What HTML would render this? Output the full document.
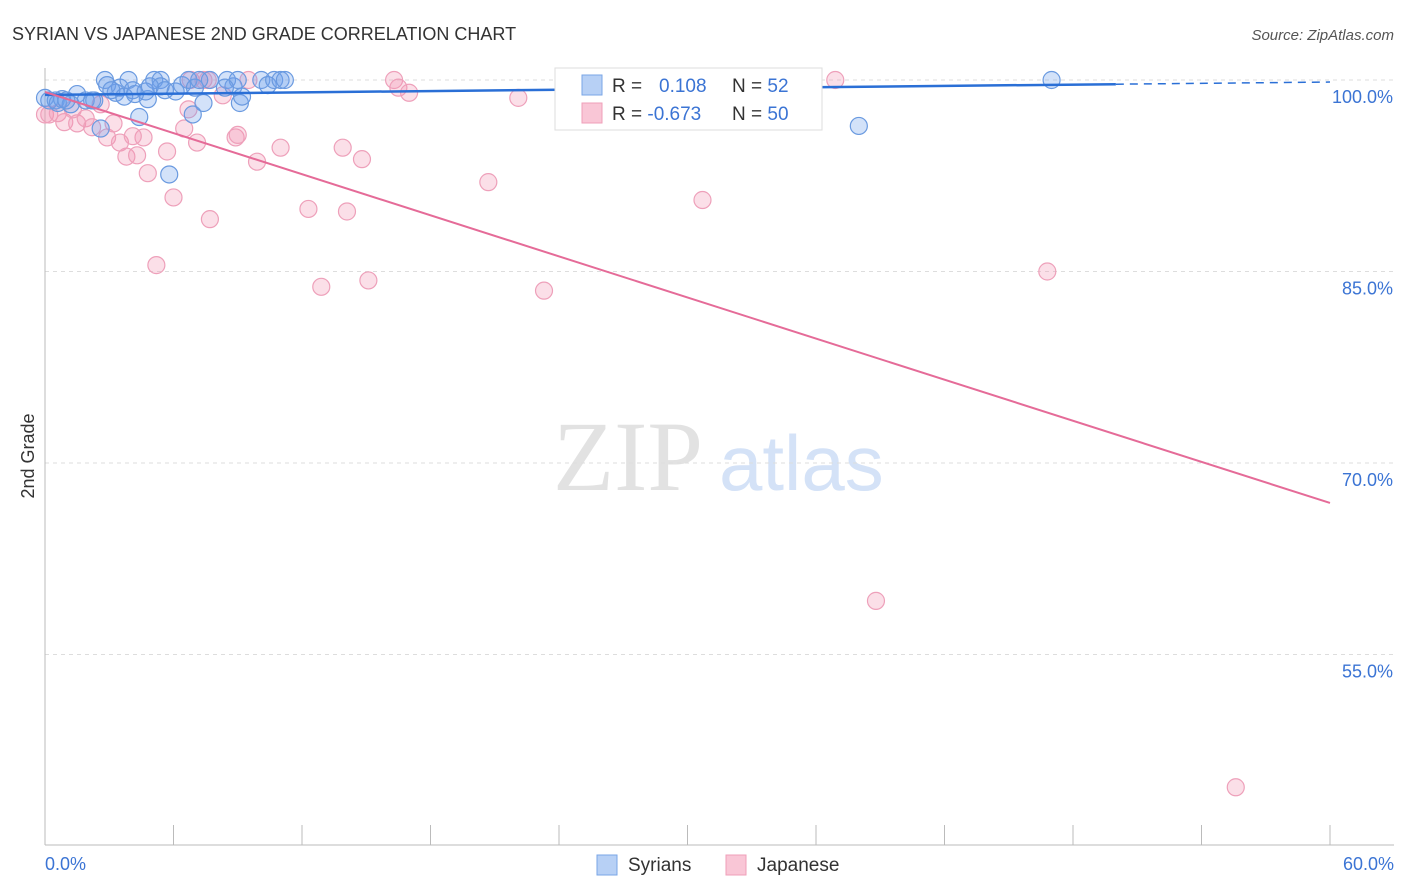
<!DOCTYPE html>
<html><head><meta charset="utf-8"><style>
body{margin:0;background:#fff;font-family:"Liberation Sans",sans-serif}
svg{display:block}
</style></head><body>
<svg width="1406" height="892">
<text x="12" y="40" font-size="18" fill="#333">SYRIAN VS JAPANESE 2ND GRADE CORRELATION CHART</text>
<text x="1394" y="40" font-size="15" fill="#555" text-anchor="end" font-style="italic">Source: ZipAtlas.com</text>
<text x="553" y="490" font-size="100" fill="#e2e2e2" font-family="Liberation Serif">ZIP</text>
<text x="719" y="490" font-size="78" fill="#d4e2f7">atlas</text>
<g id="grid"></g>
<g id="axes"></g>
<g id="pts"></g>
<g id="lines"></g>
<text x="34" y="456" font-size="18" fill="#333" text-anchor="middle" transform="rotate(-90 34 456)">2nd Grade</text>
<text x="45" y="870" font-size="18" fill="#3b74d4">0.0%</text>
<text x="1394" y="870" font-size="18" fill="#3b74d4" text-anchor="end">60.0%</text>
<g>
<rect x="555" y="68" width="267" height="62" fill="#fff" stroke="#ddd"/>
<rect x="582" y="75" width="20" height="20" fill="#b7d0f5" stroke="#7aa6e6"/>
<rect x="582" y="103" width="20" height="20" fill="#f9c6d6" stroke="#ef9fb8"/>
<text x="612" y="92" font-size="19" fill="#333">R = <tspan fill="#3b74d4" x="659">0.108</tspan><tspan fill="#333" x="732">N = </tspan><tspan fill="#3b74d4">52</tspan></text>
<text x="612" y="120" font-size="19" fill="#333">R = <tspan fill="#3b74d4">-0.673</tspan><tspan fill="#333" x="732">N = </tspan><tspan fill="#3b74d4">50</tspan></text>
</g>
<g>
<rect x="597" y="855" width="20" height="20" fill="#b7d0f5" stroke="#7aa6e6"/>
<text x="628" y="871" font-size="19" fill="#333">Syrians</text>
<rect x="726" y="855" width="20" height="20" fill="#f9c6d6" stroke="#ef9fb8"/>
<text x="757" y="871" font-size="19" fill="#333">Japanese</text>
</g>
</svg>
<script>
const yTicks=[100,85,70,55];
const yTickLabels=["100.0%","85.0%","70.0%","55.0%"];
const xTicks=[0,6,12,18,24,30,36,42,48,54,60];
const syrX=[0,0.2,0.5,0.8,1.2,1.5,1.9,2.2,2.6,2.8,2.9,3.3,3.5,3.7,3.9,4.1,4.4,4.8,5.1,5.4,5.4,5.6,5.8,6.1,6.4,6.7,6.9,7.0,7.4,7.7,8.5,8.8,9.0,9.1,9.2,10.1,10.4,10.7,11.0,11.2,27.8,38.0,47.0,0.6,1.0,2.3,3.1,4.7,7.2,4.2,4.9,8.4];
const syrY=[98.6,98.4,98.4,98.5,98.1,98.9,98.4,98.4,96.2,100,99.6,99.0,99.4,98.7,100,99.2,97.1,98.5,100,100,99.5,99.2,92.6,99.1,99.6,100,97.3,99.4,98.2,100,100,99.5,100,98.2,98.7,100,99.6,100,100,100,100,96.4,100,98.2,98.4,98.4,99.2,99.1,100,98.9,99.5,99.4];
const japX=[0,0.2,0.6,0.9,1.3,1.5,1.9,2.2,2.6,2.9,3.2,3.5,3.8,4.3,4.6,4.1,4.8,5.2,5.7,6.0,6.5,6.7,6.8,7.1,7.4,7.7,8.3,8.9,9.0,9.5,9.9,11.0,12.3,12.9,13.9,14.1,14.8,15.1,16.3,16.5,17.0,20.7,22.1,23.3,30.7,36.9,46.8,38.8,55.6,7.6];
const japY=[97.3,97.3,97.4,96.7,97.7,96.6,97.0,96.3,98.1,95.5,96.6,95.1,94.0,94.1,95.5,95.6,92.7,85.5,94.4,90.8,96.2,97.7,100,95.1,100,89.1,98.8,95.5,95.7,100,93.6,94.7,89.9,83.8,94.7,89.7,93.8,84.3,100,99.4,99.0,92.0,98.6,83.5,90.6,100,85.0,59.2,44.6,100];
const syrTrend=[98.83,99.84];
const japTrend=[99.06,66.87];
const NS="http://www.w3.org/2000/svg";
const X=v=>45+v/60*1285;
const Y=v=>80+(100-v)*191.5/15;
function mk(t,a,p){const e=document.createElementNS(NS,t);for(const k in a)e.setAttribute(k,a[k]);p.appendChild(e);return e;}
const grid=document.getElementById('grid'),axes=document.getElementById('axes'),pts=document.getElementById('pts'),lines=document.getElementById('lines');
yTicks.forEach((v,i)=>{
 const l=mk('line',{x1:45,x2:1394,y1:Y(v),y2:Y(v),stroke:'#ddd','stroke-dasharray':'4,4'},grid);
 
 
 const t=mk('text',{x:1393,y:Y(v)+23,'font-size':18,fill:'#3b74d4','text-anchor':'end'},grid);
 t.textContent=yTickLabels[i];
 
 
});
const ya=mk('line',{x1:45,x2:45,y1:68,y2:845,stroke:'#bbb'},axes);


const xa=mk('line',{x1:45,x2:1394,y1:845,y2:845,stroke:'#bbb'},axes);


xTicks.forEach(v=>{
 const l=mk('line',{x1:X(v),x2:X(v),y1:825,y2:845,stroke:'#bbb'},axes);
 
 
});
japX.forEach((x,i)=>{
 const c=mk('circle',{cx:X(x),cy:Y(japY[i]),r:8.5,fill:'rgba(242,150,180,0.3)',stroke:'#eea0ba','stroke-width':1.2},pts);
 
 
});
syrX.forEach((x,i)=>{
 const c=mk('circle',{cx:X(x),cy:Y(syrY[i]),r:8.5,fill:'rgba(110,160,235,0.3)',stroke:'#6a9ae0','stroke-width':1.2},pts);
 
 
});
const sAt=x=>syrTrend[0]+(syrTrend[1]-syrTrend[0])*x/60;
const l1=mk('line',{x1:X(0),y1:Y(sAt(0)),x2:X(50),y2:Y(sAt(50)),stroke:'#2a6fd6','stroke-width':2.5},lines);


const l2=mk('line',{x1:X(50),y1:Y(sAt(50)),x2:X(60),y2:Y(sAt(60)),stroke:'#2a6fd6','stroke-width':1.5,'stroke-dasharray':'8,6'},lines);


const l3=mk('line',{x1:X(0),y1:Y(japTrend[0]),x2:X(60),y2:Y(japTrend[1]),stroke:'#e56b98','stroke-width':2},lines);


</script>
</body></html>
